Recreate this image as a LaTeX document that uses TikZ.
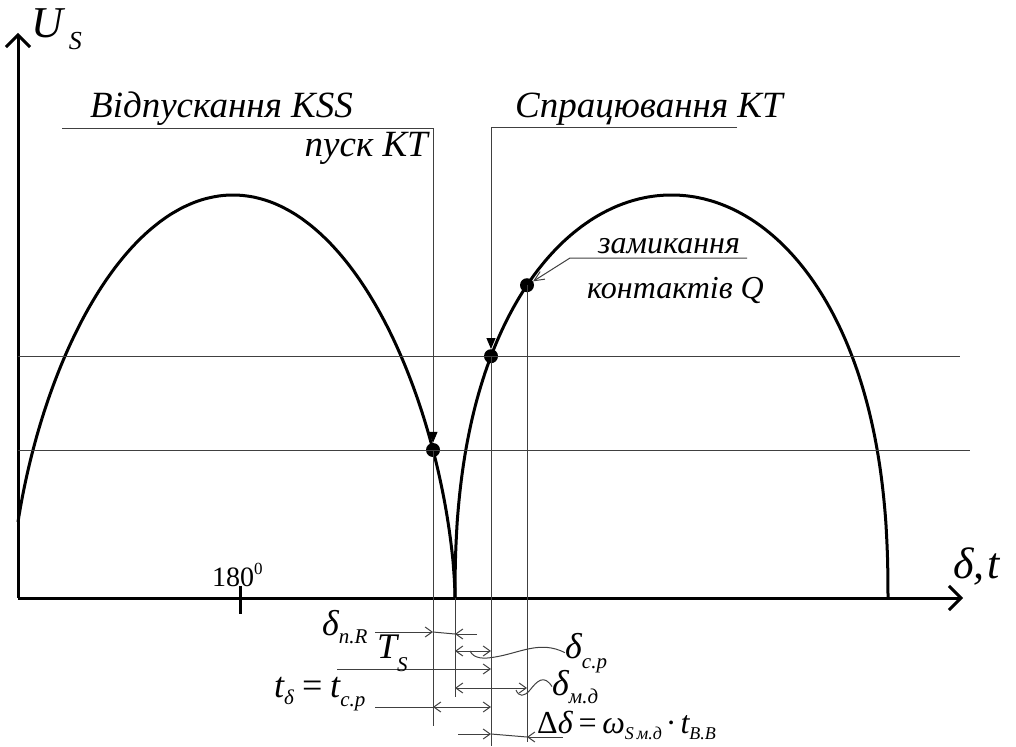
\documentclass[tikz,border=0pt]{standalone}
\usepackage{fontspec}
\setmainfont{Liberation Serif}
\newfontfamily\tnr{Liberation Serif}
\usetikzlibrary{arrows.meta}
\newcommand{\sbx}[2][-9pt]{\raisebox{#1}{\fontsize{21}{21}\selectfont #2}}
\newcommand{\sbs}[2][-6pt]{\raisebox{#1}{\fontsize{18}{18}\selectfont #2}}
\begin{document}
\begin{tikzpicture}[x=1pt,y=-1pt,
  heavy/.style={line width=3pt},
  thinln/.style={line width=1pt, black!75},
  dimarr/.style={thinln, -{Straight Barb[length=7pt,width=10pt]}},
  dimboth/.style={thinln, {Straight Barb[length=7pt,width=10pt]}-{Straight Barb[length=7pt,width=10pt]}},
  axisarr/.style={heavy, -{Straight Barb[length=12pt,width=24pt]}},
  dotnode/.style={circle, fill=black, inner sep=0pt, minimum size=14pt},
  lab/.style={inner sep=0pt, font=\tnr\fontsize{37}{40}\selectfont\itshape},
  slab/.style={inner sep=0pt, font=\tnr\fontsize{32}{36}\selectfont\itshape},
  mlab/.style={inner sep=0pt, font=\tnr\fontsize{36}{40}\selectfont\itshape},
  leadtri/.style={thinln, -{Triangle[length=11pt,width=9pt,fill=black,color=black]}},
  leadopen/.style={thinln, -{Straight Barb[length=10pt,width=9pt]}}
]
\useasboundingbox (0,0) rectangle (1016,746);

% axes
\coordinate (O) at (18,598);
\coordinate (Ytip) at (18,33);
\coordinate (Xtip) at (963,598);
\draw[axisarr] (O) -- (Ytip);
\draw[axisarr] (O) -- (Xtip);
\coordinate (tk1) at (240,586);
\coordinate (tk2) at (240,614);
\draw[heavy] (tk1) -- (tk2);

% curves
\draw[heavy, line join=round] plot[variable=\t, domain=14.4:179.8, samples=160, smooth]
  ({233-222*cos(\t)},{598-403*pow(sin(\t),1.2)}) -- (455,598);
\draw[heavy, line join=round] (455,598) -- plot[variable=\t, domain=0.2:179.8, samples=160, smooth]
  ({671.5-216.5*cos(\t)},{598-403*pow(sin(\t),0.86)}) -- (888,598);

% dots
\node[dotnode] (p1) at (433,450) {};
\node[dotnode] (p2) at (491,356.2) {};
\node[dotnode] (p3) at (527,285.2) {};

% horizontal level lines
\coordinate (h1a) at (18,450);
\coordinate (h1b) at (970,450);
\coordinate (h2a) at (18,356);
\coordinate (h2b) at (960,356);
\draw[thinln] (h1a) -- (h1b);
\draw[thinln] (h2a) -- (h2b);

% vertical extension lines
\coordinate (v1b) at (433,726);
\coordinate (z) at (455,598);
\coordinate (zb) at (455,697);
\coordinate (v2b) at (491,746);
\coordinate (v3b) at (527,742);
\draw[thinln] (p1.center) -- (v1b);
\draw[thinln] (z) -- (zb);
\draw[thinln] (p2.center) -- (v2b);
\draw[thinln] (p3.center) -- (v3b);

% top leaders
\coordinate (l1a) at (62,129);
\coordinate (l1b) at (433,129);
\draw[leadtri] (l1a) -- (l1b) -- (p1);
\coordinate (l2a) at (737,128);
\coordinate (l2b) at (491,128);
\draw[leadtri] (l2a) -- (l2b) -- (p2);
\coordinate (l3a) at (747,258);
\coordinate (l3b) at (570,258);
\draw[leadopen] (l3a) -- (l3b) -- (p3);

% dimension rows
\coordinate (r1a) at (375,632); \coordinate (r1b) at (433,632);
\coordinate (r1c) at (455,634); \coordinate (r1d) at (477,634);
\draw[dimarr] (r1a) -- (r1b);
\draw[thinln] (r1b) -- (r1c);
\draw[dimarr] (r1d) -- (r1c);

\coordinate (r2a) at (455,651); \coordinate (r2b) at (491,651);
\draw[dimboth] (r2a) -- (r2b);

\coordinate (r3a) at (337,669); \coordinate (r3b) at (491,669);
\draw[dimarr] (r3a) -- (r3b);

\coordinate (r4a) at (455,688); \coordinate (r4b) at (527,688);
\draw[dimboth] (r4a) -- (r4b);

\coordinate (r5a) at (375,707); \coordinate (r5b) at (433,707); \coordinate (r5c) at (491,707);
\draw[thinln] (r5a) -- (r5b);
\draw[dimboth] (r5b) -- (r5c);

\coordinate (r6a) at (458,734); \coordinate (r6b) at (491,734);
\coordinate (r6c) at (527,737); \coordinate (r6d) at (563,737);
\draw[dimarr] (r6a) -- (r6b);
\draw[thinln] (r6b) -- (r6c);
\draw[dimarr] (r6d) -- (r6c);

% labels
\node[inner sep=0pt, anchor=base west, font=\tnr\fontsize{44}{44}\selectfont\itshape] (us) at (31,38)
  {U\hspace{6pt}\raisebox{-12pt}{\fontsize{26}{26}\selectfont S}};
\node[inner sep=0pt, anchor=base west, font=\tnr\fontsize{44}{44}\selectfont\itshape] (dt) at (953,578) {δ,\hspace{3pt}t};
\node[inner sep=0pt, anchor=base west, font=\tnr\fontsize{28}{30}\selectfont] (d180) at (212,586)
  {180\raisebox{12pt}{\fontsize{17}{17}\selectfont 0}};

\node[lab, anchor=base west] (kss) at (90,118) {Відпускання KSS};
\node[lab, anchor=base east] (pusk) at (428,157) {пуск KT};
\node[lab, anchor=base west] (spr) at (515,118) {Спрацювання KT};
\node[slab, anchor=base west] (zam) at (598,253) {замикання};
\node[slab, anchor=base west] (kont) at (587,298) {контактів Q};

\node[mlab, anchor=base west] (dnr) at (322,635) {δ\sbx[-8pt]{п.R}};
\node[mlab, anchor=base west] (ts) at (377,658) {T\sbx[-13pt]{S}};
\node[mlab, anchor=base west] (tdl) at (274,697) {t\sbx[-7pt]{δ}\,=\,t\sbx[-9pt]{с.р}};
\node[mlab, anchor=base west] (dcp) at (565,658) {δ\sbx[-10pt]{с.р}};
\node[mlab, anchor=base west] (dmd) at (552,695) {δ\sbx[-8pt]{м.д}};
\node[inner sep=0pt, anchor=base west, font=\tnr\fontsize{32}{36}\selectfont\itshape] (ddel) at (537,733)
  {{\upshape Δ}δ\hspace{4pt}=\hspace{4pt}ω\sbs{S\hspace{3pt}м.д}\hspace{4pt}{\upshape ·}\hspace{4pt}t\sbs{В.В}};

% curved leaders
\draw[thinln] (470,651) .. controls (474,659) and (484,659) .. (495,657)
  .. controls (520,653) and (540,640) .. (dcp.west);
\draw[thinln] (516,690) .. controls (519,697) and (524,697) .. (530,690)
  .. controls (537,681) and (544,674) .. (dmd.west);
\end{tikzpicture}
\end{document}
